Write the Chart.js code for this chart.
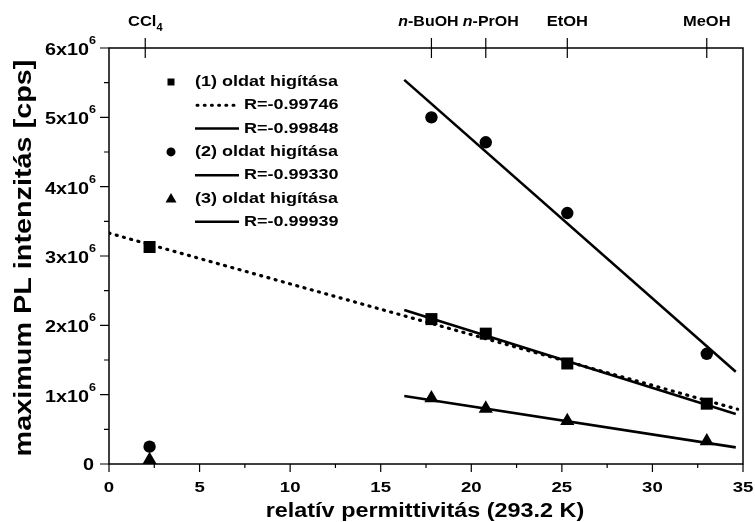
<!DOCTYPE html>
<html lang="hu">
<head>
<meta charset="UTF-8">
<meta name="viewport" content="width=device-width, initial-scale=1.0">
<title>PL intenzitás vs. permittivitás</title>
<script src="https://cdn.jsdelivr.net/npm/chart.js"></script>
<style>
	body {padding: 0; margin: 0; background: #fff;}
	#chartContainer { width: 755px; height: 522px; }
</style>
</head>
<body>

<div id="chartContainer">
    <canvas id="myChart" width="755" height="522"></canvas>
</div>

<script>
// relative permittivity of the solvents (293.2 K)
var eps = [2.24, 17.8, 20.8, 25.3, 33.0];
var solventNames = ['CCl4', 'n-BuOH', 'n-PrOH', 'EtOH', 'MeOH'];
var solventTicks = [2.0, 17.8, 20.8, 25.3, 33.0];
var solventShift = [0, -3, 5, 0, 0];   // px nudge so the alcohol labels don't collide

// maximum PL intensity [cps] for the three dilutions
var dil1 = [3.13e6, 2.09e6, 1.88e6, 1.45e6, 0.87e6];
var dil2 = [0.25e6, 5.00e6, 4.64e6, 3.62e6, 1.59e6];
var dil3 = [0.06e6, 0.95e6, 0.80e6, 0.62e6, 0.33e6];

// linear fits (end points)
var fit1aX = [0, 34.7],    fit1aY = [3.33e6, 0.79e6];
var fit1bX = [16.3, 34.6], fit1bY = [2.22e6, 0.72e6];
var fit2X  = [16.3, 34.6], fit2Y  = [5.54e6, 1.33e6];
var fit3X  = [16.3, 34.6], fit3Y  = [0.98e6, 0.24e6];

var xTicks = [0, 5, 10, 15, 20, 25, 30, 35];
var yTicks = [0, 1, 2, 3, 4, 5, 6];

var legendRows = [
    {marker: 'rect', text: '(1) oldat higítása'},
    {line: 'dot', text: 'R=-0.99746'},
    {line: 'solid', text: 'R=-0.99848'},
    {marker: 'circle', text: '(2) oldat higítása'},
    {line: 'solid', text: 'R=-0.99330'},
    {marker: 'triangle', text: '(3) oldat higítása'},
    {line: 'solid', text: 'R=-0.99939'}
];

function pts(xs, ys) {
    return xs.map(function(x, i) { return {x: x, y: ys[i]}; });
}

var FONT = '"Liberation Sans", Arial, sans-serif';
var SX = 1.2;  // the lettering is a wide bold face

// text drawn with a horizontal stretch along its baseline
function wideText(ctx, text, x, y, font, align, base, rot, sx) {
    ctx.save();
    ctx.font = font;
    ctx.textAlign = align || 'left';
    ctx.textBaseline = base || 'alphabetic';
    ctx.translate(x, y);
    if (rot) ctx.rotate(rot);
    ctx.scale(sx || SX, 1);
    ctx.fillText(text, 0, 0);
    ctx.restore();
}

function wideWidth(ctx, text, font, sx) {
    ctx.font = font;
    return ctx.measureText(text).width * (sx || SX);
}

// frame, ticks, labels, titles and legend
var decorPlugin = {
    id: 'decor',
    afterDraw: function(chart) {
        var ctx = chart.ctx;
        var a = chart.chartArea;
        var xs = chart.scales.x, ys = chart.scales.y;
        ctx.save();
        ctx.strokeStyle = '#000';
        ctx.fillStyle = '#000';
        ctx.lineWidth = 1.5;
        ctx.strokeRect(a.left, a.top, a.right - a.left, a.bottom - a.top);

        ctx.lineWidth = 1.2;
        ctx.beginPath();
        // bottom ticks
        for (var v = 0; v <= 35; v += 2.5) {
            var px = xs.getPixelForValue(v);
            var len = (v % 5 === 0) ? 8 : 4;
            ctx.moveTo(px, a.bottom); ctx.lineTo(px, a.bottom + len);
        }
        // left ticks
        for (var w = 0; w <= 6e6; w += 0.5e6) {
            var py = ys.getPixelForValue(w);
            var l2 = (w % 1e6 === 0) ? 9 : 5;
            ctx.moveTo(a.left, py); ctx.lineTo(a.left - l2, py);
        }
        // top solvent ticks
        solventTicks.forEach(function(t) {
            var px = xs.getPixelForValue(t);
            ctx.moveTo(px, a.top - 10); ctx.lineTo(px, a.top + 10);
        });
        ctx.stroke();

        // x tick labels
        xTicks.forEach(function(t) {
            wideText(ctx, String(t), xs.getPixelForValue(t), 488, 'bold 15.5px ' + FONT, 'center', 'middle');
        });

        // y tick labels with superscript exponent
        var fMain = 'bold 16.5px ' + FONT, fSup = 'bold 10.5px ' + FONT;
        yTicks.forEach(function(t) {
            var py = ys.getPixelForValue(t * 1e6);
            var right = a.left - 13;
            if (t === 0) {
                wideText(ctx, '0', right - 2, py + 1, fMain, 'right', 'middle');
                return;
            }
            var wExp = wideWidth(ctx, '6', fSup);
            wideText(ctx, '6', right, py - 7, fSup, 'right', 'middle');
            wideText(ctx, t + 'x10', right - wExp, py + 2.5, fMain, 'right', 'middle');
        });

        // top solvent labels
        var topSx = 1.1;
        solventNames.forEach(function(name, i) {
            var cx = xs.getPixelForValue(solventTicks[i]) + solventShift[i];
            var parts;
            if (name === 'CCl4') {
                parts = [{t: 'CCl', f: 'bold 15px '}, {t: '4', f: 'bold 10px ', dy: 5}];
            } else if (name.indexOf('n-') === 0) {
                parts = [{t: 'n', f: 'italic bold 14.5px '}, {t: name.slice(1), f: 'bold 14.5px '}];
            } else {
                parts = [{t: name, f: 'bold 15px '}];
            }
            var total = 0;
            parts.forEach(function(p) { p.w = wideWidth(ctx, p.t, p.f + FONT, topSx); total += p.w; });
            var x0 = cx - total / 2;
            parts.forEach(function(p) {
                wideText(ctx, p.t, x0, 26 + (p.dy || 0), p.f + FONT, 'left', 'alphabetic', 0, topSx);
                x0 += p.w;
            });
        });

        // axis titles
        wideText(ctx, 'relatív permittivitás (293.2 K)', (a.left + a.right) / 2 - 1, 517,
            'bold 19.5px ' + FONT, 'center', 'alphabetic');
        wideText(ctx, 'maximum PL intenzitás [cps]', 31, 258,
            'bold 24px ' + FONT, 'center', 'alphabetic', -Math.PI / 2);

        // legend
        var fLeg = 'bold 15px ' + FONT;
        legendRows.forEach(function(r, i) {
            var y = 82 + i * 23.3;
            if (r.marker) {
                drawMarker(ctx, r.marker, 171, y);
                wideText(ctx, r.text, 195, y, fLeg, 'left', 'middle');
            } else {
                ctx.beginPath();
                if (r.line === 'dot') {
                    ctx.setLineDash([1, 6.2]);
                    ctx.lineCap = 'round';
                    ctx.lineWidth = 3;
                    ctx.moveTo(197, y); ctx.lineTo(238, y);
                } else {
                    ctx.setLineDash([]);
                    ctx.lineCap = 'butt';
                    ctx.lineWidth = 2.5;
                    ctx.moveTo(195, y); ctx.lineTo(239, y);
                }
                ctx.stroke();
                ctx.setLineDash([]);
                wideText(ctx, r.text, 244, y, fLeg, 'left', 'middle');
            }
        });
        ctx.restore();
    }
};

function drawMarker(ctx, style, x, y) {
    ctx.beginPath();
    if (style === 'rect') {
        ctx.rect(x - 3.5, y - 3.5, 7, 7);
    } else if (style === 'circle') {
        ctx.arc(x, y, 4.5, 0, Math.PI * 2);
    } else {
        ctx.moveTo(x, y - 5.5); ctx.lineTo(x + 5.5, y + 4); ctx.lineTo(x - 5.5, y + 4); ctx.closePath();
    }
    ctx.fill();
}

var lineOpts = {type: 'line', showLine: true, pointRadius: 0, borderColor: '#000',
    borderWidth: 2.6, fill: false, tension: 0};

var myChart = new Chart(document.getElementById('myChart').getContext('2d'), {
    type: 'scatter',
    data: {
        datasets: [
            Object.assign({}, lineOpts, {label: 'R=-0.99746', data: pts(fit1aX, fit1aY),
                borderDash: [1, 6.5], borderCapStyle: 'round', borderWidth: 3.2}),
            Object.assign({}, lineOpts, {label: 'R=-0.99848', data: pts(fit1bX, fit1bY)}),
            Object.assign({}, lineOpts, {label: 'R=-0.99330', data: pts(fit2X, fit2Y)}),
            Object.assign({}, lineOpts, {label: 'R=-0.99939', data: pts(fit3X, fit3Y)}),
            {label: '(1) oldat higítása', data: pts(eps, dil1), pointStyle: 'rect',
                pointRadius: 8.5, backgroundColor: '#000', borderColor: '#000', borderWidth: 0},
            {label: '(2) oldat higítása', data: pts(eps, dil2), pointStyle: 'circle',
                pointRadius: 6.2, backgroundColor: '#000', borderColor: '#000', borderWidth: 0},
            {label: '(3) oldat higítása', data: pts(eps, dil3), pointStyle: 'triangle',
                pointRadius: 8.2, backgroundColor: '#000', borderColor: '#000', borderWidth: 0}
        ]
    },
    options: {
        responsive: false,
        animation: false,
        layout: {padding: {left: 109, right: 12, top: 48, bottom: 58}},
        plugins: {legend: {display: false}, tooltip: {enabled: false}},
        scales: {
            x: {type: 'linear', min: 0, max: 35, display: false},
            y: {type: 'linear', min: 0, max: 6e6, display: false}
        }
    },
    plugins: [decorPlugin]
});
</script>

</body>
</html>
